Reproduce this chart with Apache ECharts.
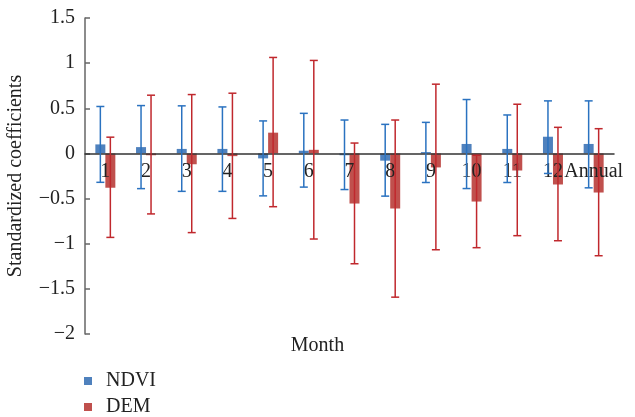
<!DOCTYPE html>
<html>
<head>
<meta charset="utf-8">
<script src="https://cdn.jsdelivr.net/npm/echarts@6/dist/echarts.min.js"></script>
<style>html,body{margin:0;padding:0;background:#fff}#c{width:635px;height:417px}</style>
</head>
<body>
<div id="c"></div>
<script>
const categories = ['1','2','3','4','5','6','7','8','9','10','11','12','Annual'];
const ndvi = [0.10, 0.07, 0.05, 0.05, -0.055, 0.03, -0.02, -0.08, 0.015, 0.105, 0.05, 0.185, 0.105];
const ndviUpper = [0.52, 0.53, 0.527, 0.515, 0.36, 0.444, 0.37, 0.322, 0.344, 0.597, 0.426, 0.582, 0.582];
const ndviLower = [-0.32, -0.39, -0.42, -0.42, -0.47, -0.373, -0.40, -0.473, -0.322, -0.389, -0.322, -0.222, -0.381];
const dem = [-0.38, -0.02, -0.12, -0.03, 0.23, 0.04, -0.555, -0.61, -0.155, -0.533, -0.189, -0.344, -0.433];
const demUpper = [0.18, 0.645, 0.652, 0.667, 1.063, 1.03, 0.115, 0.37, 0.767, -0.02, 0.545, 0.289, 0.274];
const demLower = [-0.93, -0.67, -0.877, -0.72, -0.59, -0.948, -1.222, -1.592, -1.067, -1.044, -0.911, -0.967, -1.133];
const yMin = -2, yMax = 1.5, yStep = 0.5;

const FONT = 'Liberation Serif';
const FS = 20;
const W = 635, H = 417;
const G = {left: 85, top: 18, right: 21, bottom: 83, containLabel: false, outerBoundsMode: 'none'};
const gridH = H - G.top - G.bottom;
const zeroOffset = -gridH * (0 - yMin) / (yMax - yMin);

const chart = echarts.init(document.getElementById('c'), null, {renderer: 'canvas'});

function errItem(offset, color) {
  return function (params, api) {
    const idx = api.value(0);
    const hi = api.coord([idx, api.value(1)]);
    const lo = api.coord([idx, api.value(2)]);
    const x = hi[0] + offset;
    const cap = 4;
    const style = {stroke: color, lineWidth: 1.5};
    return {
      type: 'group',
      children: [
        {type: 'line', shape: {x1: x, y1: hi[1], x2: x, y2: lo[1]}, style: style},
        {type: 'line', shape: {x1: x - cap, y1: hi[1], x2: x + cap, y2: hi[1]}, style: style},
        {type: 'line', shape: {x1: x - cap, y1: lo[1], x2: x + cap, y2: lo[1]}, style: style}
      ]
    };
  };
}

chart.setOption({
  animation: false,
  textStyle: {fontFamily: FONT},
  grid: G,
  legend: {
    orient: 'vertical', left: 84, top: 371, padding: 0, itemWidth: 8, itemHeight: 8, itemGap: 6,
    icon: 'rect',
    textStyle: {fontFamily: FONT, fontSize: FS, color: '#222', padding: [0, 0, 0, 9]},
    data: ['NDVI', 'DEM']
  },
  xAxis: {
    type: 'category', data: categories, z: 10, position: 'bottom', offset: zeroOffset,
    axisLine: {onZero: false, lineStyle: {color: '#333', width: 1.5}},
    axisTick: {show: false},
    axisLabel: {fontFamily: FONT, fontSize: FS, color: '#222', margin: 8, interval: 0}
  },
  yAxis: {
    type: 'value', min: yMin, max: yMax, interval: yStep,
    name: 'Standardized coefficients', nameLocation: 'middle', nameGap: 59,
    nameTextStyle: {fontFamily: FONT, fontSize: FS, color: '#222'},
    axisLine: {show: true, lineStyle: {color: '#666', width: 1.5}},
    axisTick: {show: true, inside: true, length: 5, lineStyle: {color: '#666', width: 1.5}},
    splitLine: {show: false},
    axisLabel: {fontFamily: FONT, fontSize: FS, color: '#222', margin: 10,
      formatter: v => (v < 0 ? '\u2212' + Math.abs(v) : String(v))}
  },
  graphic: [{
    type: 'text', left: 'center', top: 336,
    style: {text: 'Month', fontFamily: FONT, fontSize: FS, fill: '#222'}
  }],
  series: [
    {name: 'NDVI', type: 'bar', data: ndvi, barWidth: 10, barGap: '0%', itemStyle: {color: '#4f81bd'}},
    {name: 'DEM', type: 'bar', data: dem, barWidth: 10, barGap: '0%', itemStyle: {color: '#c0504d'}},
    {name: 'NDVI err', type: 'custom', z: 12, renderItem: errItem(-5, '#2a72c0'),
      data: categories.map((c, i) => [i, ndviUpper[i], ndviLower[i]]), encode: {x: 0, y: [1, 2]}},
    {name: 'DEM err', type: 'custom', z: 12, renderItem: errItem(5, '#c0282d'),
      data: categories.map((c, i) => [i, demUpper[i], demLower[i]]), encode: {x: 0, y: [1, 2]}}
  ]
});
</script>
</body>
</html>
